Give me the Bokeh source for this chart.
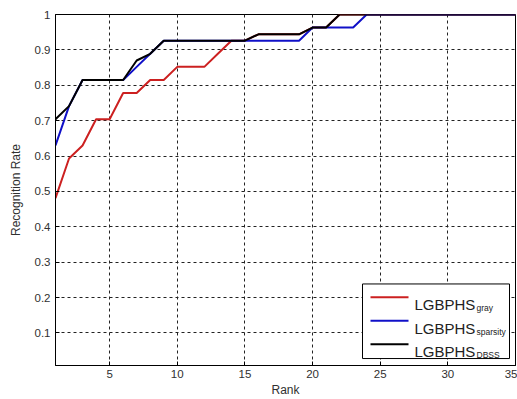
from bokeh.plotting import figure
from bokeh.models import Range1d, FixedTicker, CustomJSTickFormatter
from bokeh.core.properties import value
from bokeh.embed import file_html
from bokeh.resources import INLINE

# ---- data ----
rank = list(range(1, 36))
gray = [0.481, 0.593, 0.630, 0.704, 0.704, 0.778, 0.778, 0.815, 0.815, 0.852,
        0.852, 0.852, 0.889, 0.926, 0.926, 0.944, 0.944, 0.944, 0.944, 0.963,
        0.963] + [1.0] * 14
sparsity = [0.630, 0.741, 0.815, 0.815, 0.815, 0.815, 0.852, 0.889, 0.926, 0.926,
            0.926, 0.926, 0.926, 0.926, 0.926, 0.926, 0.926, 0.926, 0.926, 0.963,
            0.963, 0.963, 0.963] + [1.0] * 12
dbss = [0.704, 0.741, 0.815, 0.815, 0.815, 0.815, 0.870, 0.889, 0.926, 0.926,
        0.926, 0.926, 0.926, 0.926, 0.926, 0.944, 0.944, 0.944, 0.944, 0.963,
        0.963] + [1.0] * 14
x_ticks = [5, 10, 15, 20, 25, 30, 35]
y_ticks = [0.1, 0.2, 0.3, 0.4, 0.5, 0.6, 0.7, 0.8, 0.9, 1.0]
series_base = "LGBPHS"
series_sub = ["gray", "sparsity", "DBSS"]
colors = ["#cc2020", "#1010c8", "#000000"]

FONT = "Liberation Sans"
X0, X1, Y0, Y1 = 1, 35, 0.008, 1.0
FL, FR, FT, FB = 55, 515, 14, 367   # frame edges in page pixels


def dx(px):
    return X0 + (px - FL) / (FR - FL) * (X1 - X0)


def dy(py):
    return Y0 + (FB - py) / (FB - FT) * (Y1 - Y0)


p = figure(width=517, height=399, output_backend="svg", toolbar_location=None,
           x_range=Range1d(X0, X1), y_range=Range1d(Y0, Y1),
           min_border_left=FL, min_border_right=517 - FR, min_border_top=FT,
           min_border_bottom=399 - FB)
p.background_fill_color = "white"
p.border_fill_color = "white"
p.outline_line_color = "black"
p.outline_line_width = 1

for ys, c in zip([gray, sparsity, dbss], colors):
    p.line(rank, ys, line_color=c, line_width=2)

for ax in (p.xaxis[0], p.yaxis[0]):
    ax.major_tick_in = 4
    ax.major_tick_out = 0
    ax.minor_tick_in = 0
    ax.minor_tick_out = 0
    ax.axis_line_color = "black"
    ax.major_tick_line_color = "black"
    ax.major_label_text_font = FONT
    ax.major_label_text_font_size = "11.5px"
    ax.major_label_text_color = "#303030"
    ax.axis_label_text_font = FONT
    ax.axis_label_text_font_size = "12px"
    ax.axis_label_text_font_style = "normal"
    ax.axis_label_text_color = "#303030"

p.xaxis.ticker = FixedTicker(ticks=x_ticks)
p.yaxis.ticker = FixedTicker(ticks=y_ticks)
p.yaxis.formatter = CustomJSTickFormatter(code="return (Math.round(tick*10)/10).toString();")
p.xaxis.axis_label = "Rank"
p.yaxis.axis_label = "Recognition Rate"
p.xaxis.major_label_standoff = 4
p.xaxis.axis_label_standoff = 2
p.yaxis.major_label_standoff = 5
p.yaxis.axis_label_standoff = 9

for g in (p.xgrid[0], p.ygrid[0]):
    g.grid_line_color = "#222222"
    g.grid_line_dash = "3 3"
    g.grid_line_width = 1

# ---- legend (drawn by hand so the subscripts can be real text) ----
p.quad(left=[dx(362)], right=[dx(509)], bottom=[dy(360)], top=[dy(285)],
       fill_color="white", line_color="black", line_width=1)
row_y = [298.3 + 23.7 * i for i in range(3)]
p.segment(x0=[dx(370)] * 3, x1=[dx(408)] * 3, y0=[dy(y) for y in row_y],
          y1=[dy(y) for y in row_y], line_color=colors, line_width=2)
p.text(x=[dx(414)] * 3, y=[dy(y + 7.5) for y in row_y], text=[series_base] * 3,
       text_font=value(FONT), text_font_size=value("15px"),
       text_color="#222222", text_baseline="alphabetic", text_align="left")
p.text(x=[dx(476)] * 3, y=[dy(y + 11) for y in row_y], text=series_sub,
       text_font=value(FONT), text_font_size=value("8.5px"),
       text_color="#222222", text_baseline="alphabetic", text_align="left")

open("out.html", "w").write(file_html(p, INLINE))
